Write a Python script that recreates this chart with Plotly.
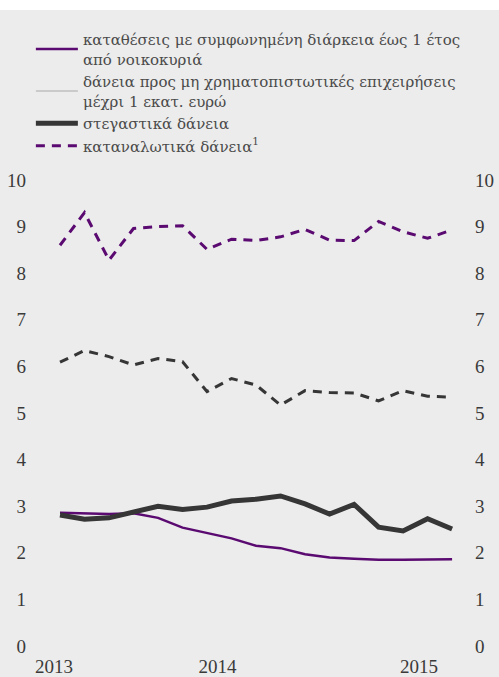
import plotly.graph_objects as go

# Observation index (17 periods) and year labels
periods = list(range(17))
year_labels = ["2013", "2014", "2015"]

deposits_households = [2.86, 2.85, 2.83, 2.85, 2.75, 2.54, 2.43, 2.31, 2.15,
                       2.10, 1.97, 1.90, 1.87, 1.85, 1.85, 1.86, 1.86]
loans_nfc_small = [6.09, 6.34, 6.21, 6.03, 6.17, 6.10, 5.46, 5.74, 5.60,
                   5.17, 5.48, 5.44, 5.43, 5.26, 5.48, 5.36, 5.34]
housing_loans = [2.81, 2.72, 2.75, 2.88, 3.00, 2.93, 2.98, 3.11, 3.15,
                 3.22, 3.05, 2.83, 3.04, 2.55, 2.47, 2.73, 2.51]
consumer_loans = [8.60, 9.30, 8.28, 8.96, 9.00, 9.02, 8.51, 8.73, 8.70,
                  8.78, 8.94, 8.71, 8.70, 9.11, 8.89, 8.75, 8.93]

names = [
    "καταθέσεις με συμφωνημένη διάρκεια έως 1 έτος<br>από νοικοκυριά",
    "δάνεια προς μη χρηματοπιστωτικές επιχειρήσεις<br>μέχρι 1 εκατ. ευρώ",
    "στεγαστικά δάνεια",
    "καταναλωτικά δάνεια<sup>1</sup>",
]

PURPLE = "#5a0a70"
DARK = "#363636"
BG = "#ececec"
FONT = "Liberation Serif, DejaVu Serif, serif"
LEGEND_FONT = "DejaVu Serif, serif"

fig = go.Figure()

fig.add_trace(go.Scatter(
    x=periods, y=deposits_households, mode="lines", name=names[0],
    line=dict(color=PURPLE, width=2.5)))

# legend entry for the enterprise-loan series
fig.add_trace(go.Scatter(
    x=[None], y=[None], mode="lines", name=names[1], legendgroup="nfc",
    line=dict(color="#a8a8a8", width=1)))
fig.add_trace(go.Scatter(
    x=periods, y=loans_nfc_small, mode="lines", name=names[1],
    legendgroup="nfc", showlegend=False,
    line=dict(color=DARK, width=3, dash="9px,7px")))

fig.add_trace(go.Scatter(
    x=periods, y=housing_loans, mode="lines", name=names[2],
    line=dict(color=DARK, width=5)))

# consumer loans on the right-hand axis (same 0-10 scale)
fig.add_trace(go.Scatter(
    x=periods, y=consumer_loans, mode="lines", name=names[3], yaxis="y2",
    line=dict(color=PURPLE, width=3, dash="9px,7px")))

yticks = list(range(0, 11))
axis_font = dict(family=FONT, size=19, color="#3a3a3a")

fig.update_layout(
    width=499, height=677,
    margin=dict(l=30, r=30, t=180, b=31, autoexpand=False),
    paper_bgcolor=BG, plot_bgcolor=BG,
    font=dict(family=FONT, color="#4a4a4a"),
    showlegend=True,
    legend=dict(
        x=0.002, y=1.0 + 157 / 466, xanchor="left", yanchor="top",
        bgcolor="rgba(0,0,0,0)", borderwidth=0, tracegroupgap=0,
        itemwidth=42,
        font=dict(family=LEGEND_FONT, size=15, color="#4a4a4a"),
    ),
    xaxis=dict(
        range=[-1.224, 16.69], showgrid=False, zeroline=False, showline=False,
        tickmode="array", tickvals=[-0.24, 6.43, 14.65], ticktext=year_labels,
        ticks="outside", ticklen=3, tickcolor=BG, tickfont=axis_font,
    ),
    yaxis=dict(
        range=[0, 10], showgrid=False, zeroline=False, showline=False,
        tickmode="array", tickvals=yticks, ticks="", tickfont=axis_font,
        ticklabelstandoff=3,
    ),
    yaxis2=dict(
        range=[0, 10], overlaying="y", side="right", showgrid=False,
        zeroline=False, showline=False, tickmode="array", tickvals=yticks,
        ticks="", tickfont=axis_font, ticklabelstandoff=5,
    ),
    shapes=[dict(type="rect", xref="paper", yref="paper",
                 x0=-0.2, x1=1.2, y0=1.0 + 170 / 466, y1=1.0 + 190 / 466,
                 fillcolor="white", line=dict(width=0), layer="above")],
)

fig.write_html("out.html")
